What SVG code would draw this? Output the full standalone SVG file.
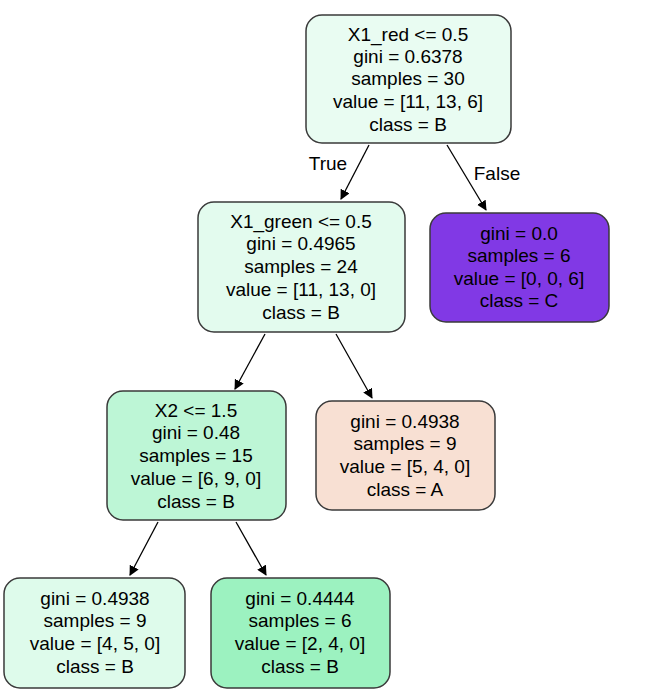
<svg xmlns="http://www.w3.org/2000/svg" width="658" height="699" viewBox="0 0 658 699">
<style>
.n{stroke:#3a3a3a;stroke-width:1.5}
text{font-family:"Liberation Sans",Arial,sans-serif;font-size:19px;fill:#000;text-anchor:middle}
.e{stroke:#000;stroke-width:1.3;fill:none}
</style>
<defs><marker id="a" markerWidth="10" markerHeight="10" refX="9" refY="5" orient="auto" markerUnits="userSpaceOnUse" viewBox="0 0 10 10"><path d="M0,0L10,5L0,10z" fill="#000"/></marker></defs>
<rect width="658" height="699" fill="#fff"/>
<g id="edges">
<line class="e" x1="369" y1="145" x2="341" y2="199" marker-end="url(#a)"/>
<line class="e" x1="447" y1="145" x2="486" y2="210" marker-end="url(#a)"/>
<line class="e" x1="265" y1="334" x2="235" y2="389" marker-end="url(#a)"/>
<line class="e" x1="336" y1="334" x2="372" y2="398" marker-end="url(#a)"/>
<line class="e" x1="158" y1="522" x2="130" y2="575" marker-end="url(#a)"/>
<line class="e" x1="236" y1="522" x2="266" y2="575" marker-end="url(#a)"/>
<text x="328" y="170">True</text>
<text x="497" y="180">False</text>
</g>
<g id="root"><rect class="n" x="306" y="15" width="205" height="128" rx="16" fill="#e9fcf2"/>
<text x="408" y="41">X1_red &lt;= 0.5</text><text x="408" y="63">gini = 0.6378</text><text x="408" y="85">samples = 30</text><text x="408" y="108">value = [11, 13, 6]</text><text x="408" y="131">class = B</text></g>
<g id="n1"><rect class="n" x="198" y="202" width="207" height="130" rx="16" fill="#e3fbee"/>
<text x="301" y="228">X1_green &lt;= 0.5</text><text x="301" y="250">gini = 0.4965</text><text x="301" y="273">samples = 24</text><text x="301" y="296">value = [11, 13, 0]</text><text x="301" y="319">class = B</text></g>
<g id="n2"><rect class="n" x="430" y="213" width="179" height="109" rx="16" fill="#8139e5"/>
<text x="519" y="240">gini = 0.0</text><text x="519" y="262">samples = 6</text><text x="519" y="285">value = [0, 0, 6]</text><text x="519" y="307">class = C</text></g>
<g id="n3"><rect class="n" x="107" y="391" width="179" height="129" rx="16" fill="#bdf6d6"/>
<text x="196" y="417">X2 &lt;= 1.5</text><text x="196" y="439">gini = 0.48</text><text x="196" y="462">samples = 15</text><text x="196" y="485">value = [6, 9, 0]</text><text x="196" y="508">class = B</text></g>
<g id="n4"><rect class="n" x="316" y="401" width="179" height="109" rx="16" fill="#f8e0d3"/>
<text x="405" y="428">gini = 0.4938</text><text x="405" y="450">samples = 9</text><text x="405" y="473">value = [5, 4, 0]</text><text x="405" y="496">class = A</text></g>
<g id="n5"><rect class="n" x="4" y="578" width="181" height="110" rx="16" fill="#defbeb"/>
<text x="95" y="605">gini = 0.4938</text><text x="95" y="627">samples = 9</text><text x="95" y="650">value = [4, 5, 0]</text><text x="95" y="673">class = B</text></g>
<g id="n6"><rect class="n" x="211" y="578" width="179" height="110" rx="16" fill="#9cf2c0"/>
<text x="300" y="605">gini = 0.4444</text><text x="300" y="627">samples = 6</text><text x="300" y="650">value = [2, 4, 0]</text><text x="300" y="673">class = B</text></g>
</svg>
